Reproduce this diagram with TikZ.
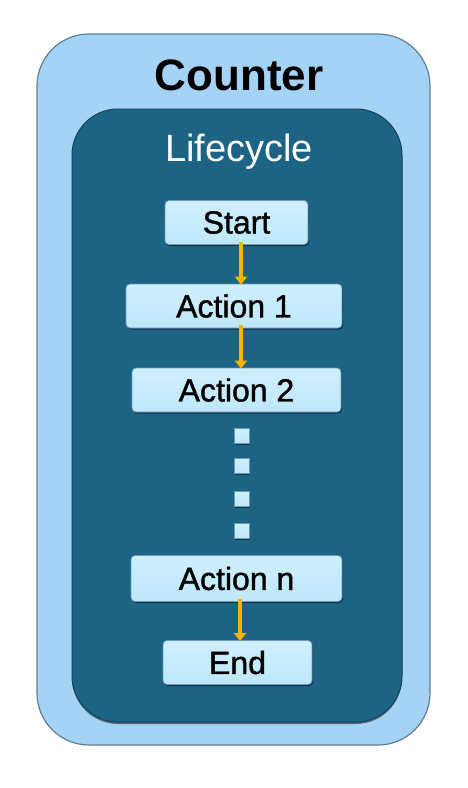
\documentclass[tikz,border=0pt]{standalone}
\usepackage{fontspec}
\setmainfont{Liberation Sans}
\newfontfamily\stepfont[FakeBold=1.2]{Liberation Sans}
\usetikzlibrary{arrows.meta,shadows}
\definecolor{outerfill}{HTML}{A4D3F6}
\definecolor{outerline}{HTML}{5F7F95}
\definecolor{innerfill}{HTML}{1C6384}
\definecolor{boxfill}{HTML}{BEE7FB}
\definecolor{boxtop}{HTML}{CFEFFD}
\definecolor{boxline}{HTML}{6A9AB5}
\definecolor{arrowcol}{HTML}{F5B400}
\tikzset{
  stepbox/.style={draw=boxline, line width=0.8pt, top color=boxtop, bottom color=boxfill,
    rounded corners=4pt,
    font=\stepfont\fontsize{32}{34}\selectfont, text=black, inner sep=0pt,
    drop shadow={shadow xshift=1.2pt, shadow yshift=-1.5pt, opacity=0.45, fill=black}},
  flowarrow/.style={draw=arrowcol, line width=4.5pt, -{Triangle[length=8pt,width=12pt]}},
  dotbox/.style={draw=boxline, line width=0.6pt, top color=boxtop, bottom color=boxfill,
    minimum size=15pt, inner sep=0pt,
    drop shadow={shadow xshift=0.8pt, shadow yshift=-1pt, opacity=0.4, fill=black}}
}
\begin{document}
\begin{tikzpicture}[x=1pt,y=-1pt]
\useasboundingbox (0,0) rectangle (467,788);
% outer container
\node[draw=outerline, line width=1.2pt, fill=outerfill, rounded corners=52pt,
  minimum width=393pt, minimum height=711pt, inner sep=0pt] (outer) at (233.5,389.5) {};
\node[font=\fontsize{44}{46}\selectfont\bfseries] (counter) at (239,75) {Counter};
% inner container
\node[draw=innerfill!70!black, line width=1pt, fill=innerfill, rounded corners=46pt,
  minimum width=330pt, minimum height=613pt, inner sep=0pt,
  drop shadow={shadow xshift=0pt, shadow yshift=-2pt, opacity=0.5, fill=black}] (inner) at (237,415.5) {};
\node[font=\fontsize{38}{40}\selectfont, text=white] (life) at (239,152) {Lifecycle};
% steps
\node[stepbox, minimum width=143pt, minimum height=44pt] (start) at (236.5,222.5) {Start};
\node[stepbox, minimum width=216pt, minimum height=44pt] (a1) at (234,306) {Action 1};
\node[stepbox, minimum width=209pt, minimum height=44pt] (a2) at (236.5,390) {Action 2};
\node[stepbox, minimum width=211pt, minimum height=46pt] (an) at (236.5,578.5) {Action n};
\node[stepbox, minimum width=149pt, minimum height=44pt] (end) at (237.5,662.5) {End};
% dots
\node[dotbox] (d1) at (242,436) {};
\node[dotbox] (d2) at (242,466) {};
\node[dotbox] (d3) at (242,499) {};
\node[dotbox] (d4) at (242,531) {};
% arrows
\coordinate (s1) at (241,249);
\coordinate (e1) at (241,281);
\coordinate (s2) at (241,333);
\coordinate (e2) at (241,366);
\coordinate (s3) at (240,604);
\coordinate (e3) at (240,638);
\draw[flowarrow] ([yshift=3pt]start.south -| s1) -- ([yshift=-1pt]a1.north -| e1);
\draw[flowarrow] ([yshift=3pt]a1.south -| s2) -- ([yshift=-1pt]a2.north -| e2);
\draw[flowarrow] ([yshift=3pt]an.south -| s3) -- ([yshift=-1pt]end.north -| e3);
\end{tikzpicture}
\end{document}
